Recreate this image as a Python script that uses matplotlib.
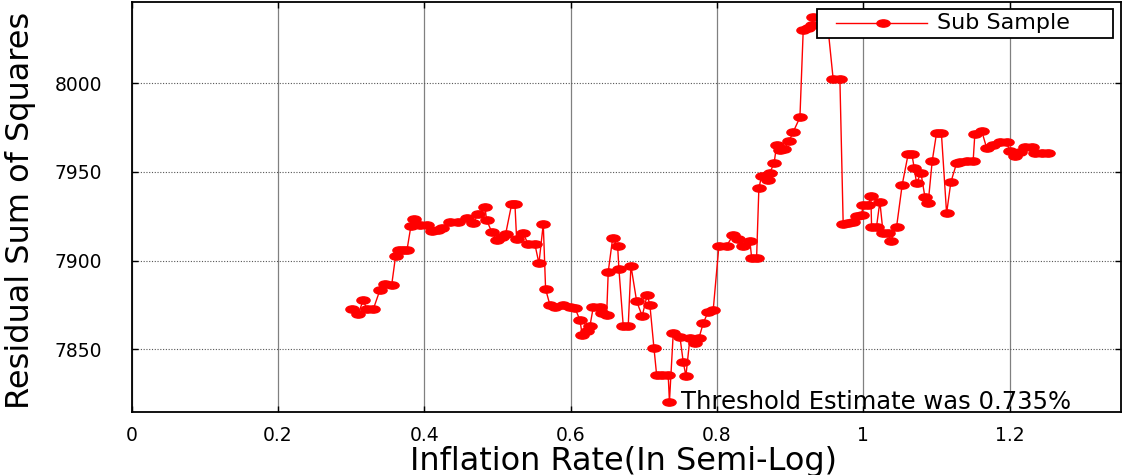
import numpy as np
import matplotlib
matplotlib.use("Agg")
import matplotlib.pyplot as plt
from matplotlib.path import Path
from matplotlib.patches import Rectangle
from matplotlib.lines import Line2D

# ---------------- data ----------------
threshold = [0.3008, 0.3098, 0.3167, 0.3213, 0.3303, 0.3395, 0.3463, 0.3555, 0.3609,
             0.3661, 0.3713, 0.3764, 0.3818, 0.3859, 0.3941, 0.4033, 0.4101, 0.4191,
             0.4238, 0.4351, 0.4464, 0.4579, 0.4669, 0.4738, 0.4829, 0.4852, 0.4921,
             0.4989, 0.5057, 0.5112, 0.5194, 0.5239, 0.5262, 0.5352, 0.5421, 0.5512,
             0.5567, 0.5626, 0.5658, 0.5717, 0.5786, 0.5899, 0.5990, 0.6059, 0.6127,
             0.6158, 0.6219, 0.6264, 0.6309, 0.6400, 0.6423, 0.6492, 0.6514, 0.6574,
             0.6642, 0.6660, 0.6719, 0.6787, 0.6824, 0.6902, 0.6978, 0.7046, 0.7083,
             0.7138, 0.7175, 0.7243, 0.7333, 0.7350, 0.7402, 0.7493, 0.7538, 0.7575,
             0.7630, 0.7698, 0.7753, 0.7811, 0.7880, 0.7948, 0.8026, 0.8131, 0.8221,
             0.8290, 0.8358, 0.8449, 0.8473, 0.8541, 0.8572, 0.8609, 0.8691, 0.8723,
             0.8781, 0.8814, 0.8859, 0.8918, 0.8986, 0.9041, 0.9133, 0.9178, 0.9246,
             0.9292, 0.9314, 0.9419, 0.9501, 0.9587, 0.9679, 0.9724, 0.9792, 0.9861,
             0.9907, 0.9975, 0.9997, 1.0066, 1.0102, 1.0112, 1.0180, 1.0225, 1.0270,
             1.0331, 1.0376, 1.0454, 1.0530, 1.0612, 1.0662, 1.0694, 1.0727, 1.0786,
             1.0840, 1.0885, 1.0940, 1.1000, 1.1066, 1.1137, 1.1195, 1.1273, 1.1318,
             1.1410, 1.1500, 1.1523, 1.1615, 1.1683, 1.1773, 1.1865, 1.1956, 1.2001,
             1.2070, 1.2138, 1.2206, 1.2298, 1.2343, 1.2434, 1.2525]
rss = [7872.6, 7869.8, 7878.0, 7872.6, 7872.6, 7883.5, 7886.7, 7886.3, 7902.8,
       7906.0, 7906.0, 7906.0, 7919.6, 7923.7, 7920.1, 7920.1, 7916.7, 7917.3,
       7918.6, 7922.0, 7922.0, 7923.9, 7921.1, 7926.2, 7930.4, 7922.9, 7916.3,
       7911.7, 7913.5, 7915.0, 7931.8, 7931.8, 7912.1, 7915.4, 7909.2, 7909.2,
       7898.5, 7920.7, 7884.0, 7875.0, 7874.1, 7875.0, 7874.1, 7873.2, 7866.6,
       7858.1, 7860.4, 7863.2, 7873.7, 7873.7, 7870.3, 7869.4, 7893.8, 7912.6,
       7908.3, 7895.1, 7863.2, 7863.2, 7897.2, 7877.1, 7868.8, 7880.7, 7875.0,
       7851.0, 7835.6, 7835.6, 7835.6, 7820.5, 7859.1, 7857.2, 7843.1, 7835.0,
       7856.3, 7853.4, 7856.3, 7864.7, 7871.3, 7872.2, 7908.3, 7908.3, 7914.5,
       7912.2, 7908.3, 7911.3, 7901.7, 7901.7, 7940.8, 7947.7, 7945.5, 7949.6,
       7955.2, 7965.1, 7962.4, 7962.8, 7967.6, 7972.5, 7980.8, 8030.0, 8031.3,
       8032.9, 8037.2, 8037.4, 8037.4, 8002.4, 8002.4, 7920.7, 7921.4, 7922.0,
       7925.2, 7925.7, 7931.4, 7931.4, 7936.5, 7919.2, 7919.2, 7933.3, 7915.4,
       7915.4, 7911.3, 7919.2, 7942.7, 7960.1, 7960.1, 7952.4, 7943.6, 7949.6,
       7936.1, 7932.4, 7956.0, 7972.0, 7971.8, 7926.7, 7944.2, 7954.9, 7955.8,
       7956.4, 7956.4, 7971.4, 7973.3, 7963.7, 7965.2, 7966.7, 7966.7, 7961.8,
       7959.0, 7961.4, 7964.3, 7964.3, 7960.9, 7960.9, 7960.9]
series_label = "Sub Sample"
annotation_text = "Threshold Estimate was 0.735%"
x_ticks = [0, 0.2, 0.4, 0.6, 0.8, 1.0, 1.2]
x_tick_labels = ["0", "0.2", "0.4", "0.6", "0.8", "1", "1.2"]
y_ticks = [7850, 7900, 7950, 8000]
y_tick_labels = ["7850", "7900", "7950", "8000"]
x_label = "Inflation Rate(In Semi-Log)"
y_label = "Residual Sum of Squares"

# ---------------- figure ----------------
plt.rcParams["font.family"] = ["DejaVu Sans"]
fig = plt.figure(figsize=(11.28, 4.75), dpi=100)
ax = fig.add_axes([0.11658, 0.13263, 0.87722, 0.86316])

circ = Path.unit_circle()
ellipse = Path(circ.vertices * np.array([1.0, 0.55]), circ.codes)

ax.plot(threshold, rss, color="#ff0000", lw=1.0, marker=ellipse,
        markersize=9.5, markerfacecolor="#ff0000", markeredgecolor="#ff0000",
        zorder=3)

ax.set_xlim(0, 1.352)
ax.set_ylim(7814.7, 8045.8)
ax.set_xticks(x_ticks)
ax.set_xticklabels(x_tick_labels)
ax.set_yticks(y_ticks)
ax.set_yticklabels(y_tick_labels)

ax.xaxis.grid(True, color="#808080", ls="-", lw=0.9)
ax.yaxis.grid(True, color="#555555", ls=(0, (1, 1.5)), lw=0.8)
ax.set_axisbelow(True)

ax.tick_params(axis="both", direction="in", top=True, right=True,
               length=4, width=1.0, labelsize=13.5, colors="black")
ax.tick_params(axis="y", pad=21)
ax.tick_params(axis="x", pad=10)
for sp in ax.spines.values():
    sp.set_linewidth(1.3)
    sp.set_color("black")

ax.set_xlabel(x_label, fontsize=23)
ax.xaxis.set_label_coords(0.4977, -0.083)
ax.xaxis.label.set_va("top")
ax.set_ylabel(y_label, fontsize=23)
ax.yaxis.set_label_coords(-0.0965, 0.4927)

# annotation at the minimum
i_min = int(np.argmin(rss))
ax.annotate(annotation_text, xy=(threshold[i_min], rss[i_min]),
            xytext=(8.5, 0), textcoords="offset points", va="center", ha="left",
            fontsize=17.5, color="black", zorder=4)

# legend box (manual, to match the reference box shape)
leg_box = Rectangle((0.6928, 0.911), 0.2991, 0.072, transform=ax.transAxes,
                    facecolor="white", edgecolor="black", lw=1.3, zorder=5,
                    clip_on=False)
ax.add_patch(leg_box)
ax.add_line(Line2D([0.712, 0.804], [0.9476, 0.9476], transform=ax.transAxes,
                   color="#ff0000", lw=1.0, zorder=6))
ax.add_line(Line2D([0.759], [0.9476], transform=ax.transAxes, color="#ff0000",
                   marker=ellipse, markersize=9.5, lw=0, zorder=6))
ax.text(0.814, 0.9476, series_label, transform=ax.transAxes, fontsize=16,
        va="center", ha="left", zorder=6)

fig.savefig("out.png", dpi=100)
